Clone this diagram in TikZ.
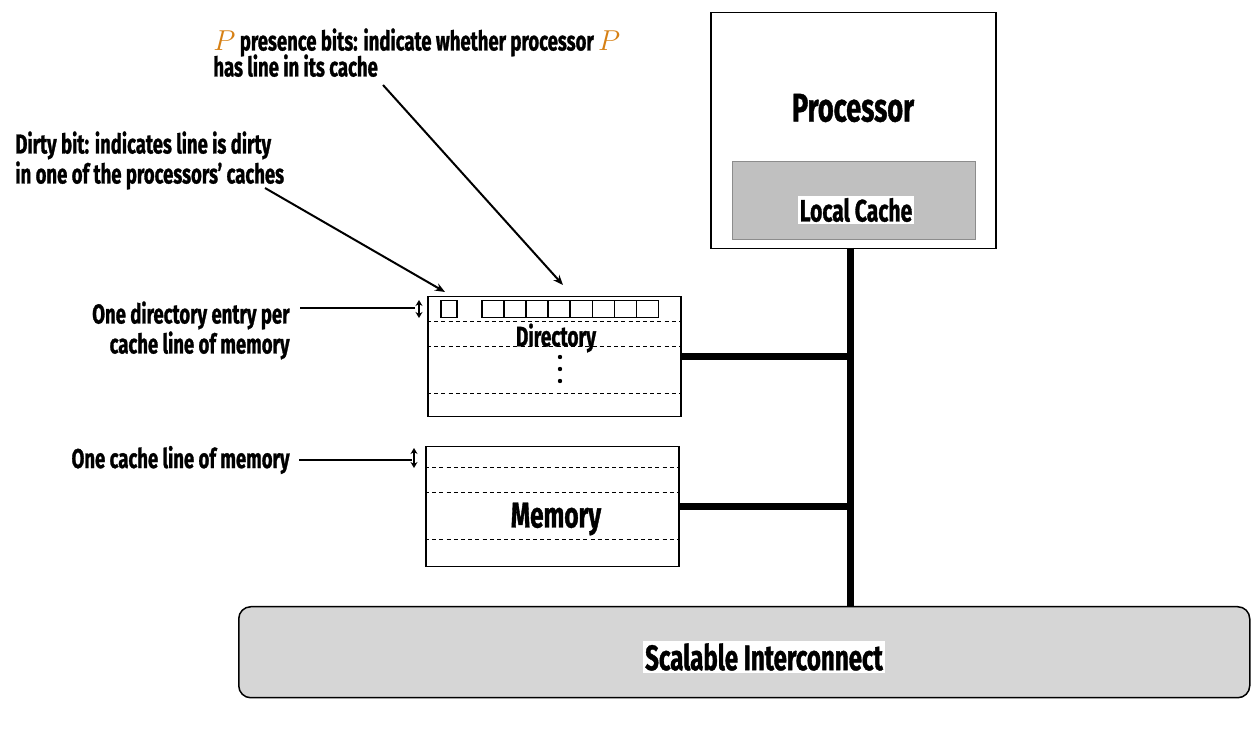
\documentclass[tikz,border=0pt]{standalone}
\usepackage{fontspec}
\setmainfont{Fira Sans}[FakeStretch=0.68, BoldFeatures={FakeBold=1}]
\usetikzlibrary{arrows.meta,positioning}
\definecolor{cachegray}{RGB}{192,192,192}
\definecolor{cacheedge}{RGB}{140,140,140}
\definecolor{netgray}{RGB}{214,214,214}
\definecolor{pcolor}{RGB}{214,128,20}
\tikzset{
  unit/.style={draw, line width=0.75pt, inner sep=0pt, anchor=north west},
  txt/.style={font=\bfseries\fontsize{#1}{#1}\selectfont, inner sep=1pt},
  note/.style={font=\bfseries\fontsize{13.6}{15}\selectfont, inner sep=0pt},
  bus/.style={line width=3.5pt},
  row/.style={dashed, dash pattern=on 2pt off 1.6pt, line width=0.5pt},
  tick/.style={{Stealth[length=3pt,width=3.5pt]}-{Stealth[length=3pt,width=3.5pt]}, line width=0.6pt},
  pointer/.style={-{Stealth[length=5pt,width=4pt]}, line width=1pt}
}
\newcommand{\presP}{\textcolor{pcolor}{\fontsize{15}{15}\selectfont$P$}}
\begin{document}
\begin{tikzpicture}[x=0.5pt,y=-0.5pt]
  \useasboundingbox (0,0) rectangle (1255,732);
  % processor with its cache
  \node[unit, minimum width=142.5pt, minimum height=118pt] (proc) at (710,12) {};
  \node[txt=20] (proctext) at (853,108) {Processor};
  \node[unit, draw=cacheedge, fill=cachegray, line width=0.6pt,
        minimum width=121.5pt, minimum height=39pt] (cache) at (732,161) {};
  \node[txt=15.5, fill=white] (cachetext) at (856,210) {Local Cache};
  % interconnect
  \node[unit, fill=netgray, rounded corners=6pt,
        minimum width=505.5pt, minimum height=45.5pt] (net) at (238,606) {};
  \node[txt=17.7, fill=white] (nettext) at (764,657) {Scalable Interconnect};
  % directory
  \node[unit, minimum width=126.5pt, minimum height=60pt] (dir) at (427,296) {};
  \foreach \y in {322,347,394}
    \draw[row] (427,\y) -- (680,\y);
  \node[unit, minimum width=8pt, minimum height=8.5pt] (dirty) at (440,300) {};
  \foreach \i in {0,...,7}
    \node[unit, minimum width=11.06pt, minimum height=8.5pt] (bit\i) at (481+\i*22.12,300) {};
  \node[txt=14] (dirtext) at (556,338) {Directory};
  \foreach \y in {357,369,381}
    \fill (560,\y) circle (1.1pt);
  % memory
  \node[unit, minimum width=126.5pt, minimum height=60pt] (mem) at (425,446) {};
  \foreach \y in {468,493,540}
    \draw[row] (425,\y) -- (678,\y);
  \node[txt=18] (memtext) at (556,519) {Memory};
  % bus wiring
  \coordinate (bustop) at (850,248);
  \draw[bus] (bustop) -- (bustop |- net.north);
  \draw[bus] (dir.east) -- (dir.east -| bustop);
  \draw[bus] (mem.east) -- (mem.east -| bustop);
  % annotations
  \node[note, anchor=north west, align=left] (presnote) at (213,28)
    {\presP{} presence bits: indicate whether processor \presP\\[-2pt]has line in its cache};
  \node[note, anchor=north west, align=left] (dirtynote) at (15,131)
    {Dirty bit: indicates line is dirty\\in one of the processors’ caches};
  \node[note, anchor=north east, align=right] (entrynote) at (290,301)
    {One directory entry per\\cache line of memory};
  \node[note, anchor=east] (linenote) at (290,460) {One cache line of memory};
  \coordinate (prestail) at (383,85);
  \coordinate (dirtytail) at (265,188);
  \draw[pointer] (prestail) -- (563,285);
  \draw[pointer] (dirtytail) -- (445,292);
  \draw[tick] (419,300) -- (419,318);
  \draw[line width=0.75pt] (300,308) -- (415,308);
  \draw[tick] (414,448) -- (414,468);
  \draw[line width=0.75pt] (linenote.east) ++(9,0) -- (412,460);
\end{tikzpicture}
\end{document}
